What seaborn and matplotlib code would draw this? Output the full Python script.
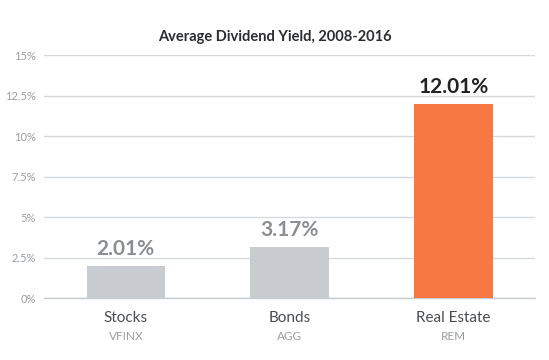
import matplotlib
matplotlib.use("Agg")
import matplotlib.pyplot as plt
import matplotlib.transforms as mtransforms
import seaborn as sns
import pandas as pd

categories = ["Stocks", "Bonds", "Real Estate"]
tickers = ["VFINX", "AGG", "REM"]
values = [2.01, 3.17, 12.01]
bar_colors = ["#c8ccd0", "#c8ccd0", "#f77843"]
label_colors = ["#8a8d91", "#8a8d91", "#222222"]
yticks = [0, 2.5, 5, 7.5, 10, 12.5, 15]
ytick_labels = ["0%", "2.5%", "5%", "7.5%", "10%", "12.5%", "15%"]

sns.set_theme(style="white")
plt.rcParams["font.family"] = ["Lato", "DejaVu Sans"]

df = pd.DataFrame({"cat": categories, "val": values})

fig = plt.figure(figsize=(5.49, 3.6), dpi=100)
ax = fig.add_axes([0.080, 0.172, 0.895, 0.675])

ax.set_axisbelow(True)
ax.yaxis.grid(True, color="#d5d8dc", linewidth=1)
sns.barplot(data=df, x="cat", y="val", hue="cat", palette=bar_colors, saturation=1,
            width=0.48, linewidth=0, legend=False, ax=ax, zorder=3)

ax.set_ylim(0, 15)
ax.set_xlim(-0.5, 2.5)
ax.set_yticks(yticks)
ax.set_yticklabels(ytick_labels, color="#9a9ea4", fontsize=8)
ax.tick_params(axis="y", length=0, pad=6)
ax.set_xticks(range(len(categories)))
ax.set_xticklabels([])
ax.tick_params(axis="x", which="major", length=0)
ax.set_xticks([-0.5, 0.5, 1.5, 2.5], minor=True)
ax.tick_params(axis="x", which="minor", length=8, width=1, color="#c8ccd0", direction="out")
for s in ["left", "right", "top"]:
    ax.spines[s].set_visible(False)
ax.spines["bottom"].set_color("#c8ccd0")
ax.spines["bottom"].set_linewidth(1)
ax.set_xlabel("")
ax.set_ylabel("")

for i, (v, c) in enumerate(zip(values, label_colors)):
    ax.annotate(f"{v:.2f}%", (i, v), xytext=(0, 5), textcoords="offset points",
                ha="center", va="bottom", fontsize=15, fontweight="bold", color=c)

trans = mtransforms.blended_transform_factory(ax.transData, fig.transFigure)
for i, (cat, tk) in enumerate(zip(categories, tickers)):
    ax.text(i, (360 - 318) / 360, cat, transform=trans, ha="center", va="center",
            fontsize=11, color="#4a4d52")
    ax.text(i, (360 - 336) / 360, tk, transform=trans, ha="center", va="center",
            fontsize=8.5, color="#9a9ea4")

fig.text(0.5, (360 - 37) / 360, "Average Dividend Yield, 2008-2016", ha="center", va="center",
         fontsize=10.5, fontweight="bold", color="#2a2c30")

fig.savefig("out.png", dpi=100)
